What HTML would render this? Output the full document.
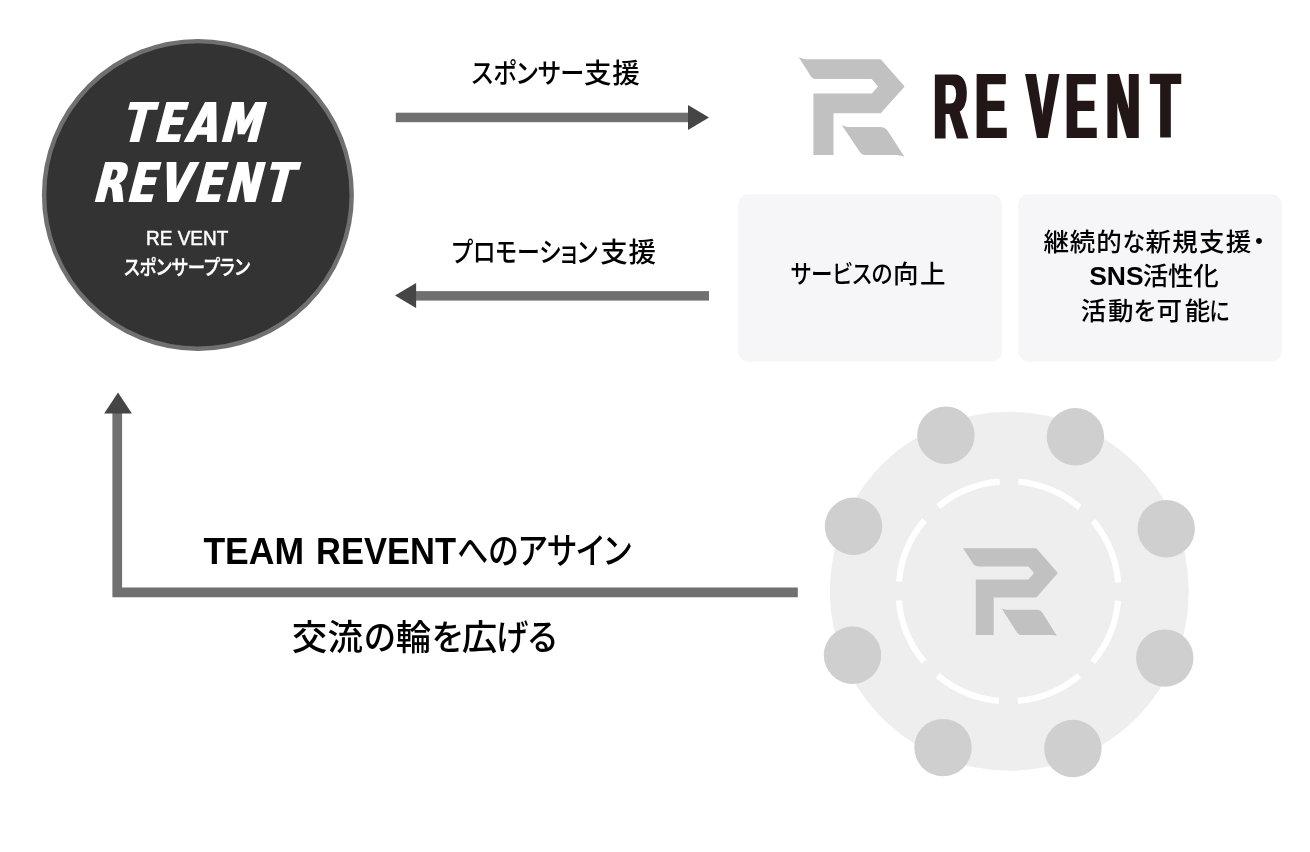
<!DOCTYPE html>
<html lang="ja">
<head>
<meta charset="utf-8">
<title>TEAM REVENT スポンサープラン</title>
<style>
  html, body { margin: 0; padding: 0; background: #ffffff; }
  body { width: 1310px; height: 852px; overflow: hidden; position: relative; }
  svg { will-change: transform; position: absolute; left: 0; top: 0; display: block; }
  text { font-family: "Liberation Sans", "Noto Sans CJK JP", sans-serif; }
  .jp { font-family: "Liberation Sans", "Noto Sans CJK JP", sans-serif; font-weight: 500; fill: #000; font-feature-settings: "palt"; }
  .ttl { font-family: "DejaVu Sans", "Liberation Sans", sans-serif; font-weight: 700; fill: #fff; }
  .logo { font-family: "Liberation Sans", sans-serif; font-weight: 700; fill: #231815; }
</style>
</head>
<body>
<svg width="1310" height="852" viewBox="0 0 1310 852">
  <defs>
    <filter id="thick" filterUnits="userSpaceOnUse" x="0" y="0" width="1310" height="852">
      <feMorphology operator="dilate" radius="1 0"/>
    </filter>
    <filter id="thick2" filterUnits="userSpaceOnUse" x="0" y="0" width="1310" height="852">
      <feMorphology operator="dilate" radius="2 0"/>
    </filter>
  </defs>

  <!-- left circle : TEAM REVENT sponsor plan -->
  <circle cx="197.9" cy="194.9" r="153.8" fill="#333333" stroke="#707070" stroke-width="4.4"/>
  <g filter="url(#thick)">
    <text class="ttl" transform="translate(120.48 142) skewX(-14.7) scale(0.74 1)" x="0 44.45 86.66 133.05" y="0" font-size="54.8">TEAM</text>
    <text class="ttl" transform="translate(92.03 202.1) skewX(-14.7) scale(0.74 1)" x="0 45.53 87.87 136.47 178.58 230.54" y="0" font-size="54.8">REVENT</text>
  </g>
  <text class="jp" y="245" font-size="20.68" style="fill:#fff" stroke="#fff" stroke-width="0.5"><tspan x="146.03" textLength="82.27" lengthAdjust="spacingAndGlyphs">RE VENT</tspan></text>
  <text class="jp" y="275" font-size="20.68" style="fill:#fff" stroke="#fff" stroke-width="0.4"><tspan x="124.07" textLength="126.08" lengthAdjust="spacingAndGlyphs">スポンサープラン</tspan></text>

  <!-- arrows between team and company -->
  <rect x="395.8" y="112.7" width="293" height="9.5" fill="#707070"/>
  <path d="M688 105 L709 117.5 L688 130 Z" fill="#454545"/>
  <rect x="415.5" y="291.1" width="293.5" height="9.5" fill="#707070"/>
  <path d="M416.1 283.1 L395 295.6 L416.1 308.1 Z" fill="#454545"/>
  <text class="jp" y="83" font-size="27.5"><tspan x="471.5" textLength="112.7" lengthAdjust="spacingAndGlyphs">スポンサー</tspan><tspan x="584.09" letter-spacing="0.75">支援</tspan></text>
  <text class="jp" y="262" font-size="27.5"><tspan x="451.93" textLength="145.82" lengthAdjust="spacingAndGlyphs">プロモーション</tspan><tspan x="600.19" letter-spacing="0.85">支援</tspan></text>

  <!-- RE VENT logo -->
  <path d="M798.6 57.1 C801.2 58.5 803.8 59.2 806.6 59.2 L880.7 59.2 L904.7 86.4 L880.7 113.3 L833.5 113.3 L833.5 155 L813.4 155 L813.4 93.4 L871.7 93.4 L878 86.4 L871.7 79.1 L816.4 79.1 C813.8 79.1 811.8 77.9 810.5 75.7 Z M841.7 125 C844.5 126.4 847.3 127 850.3 127 L880.6 127 C884.4 127 887 129.4 889 132.7 L904.5 157.1 C901.5 155.7 898 155.1 894 155.1 L865.5 155.1 C862.3 155.1 860.3 153 858.7 150.3 Z" fill="#c1c1c1"/>
  <g filter="url(#thick2)">
    <text class="logo" transform="translate(933.69 138) scale(0.5 1)" x="0 83.84 85.84 186.23 263.44 345.08 435.03" y="0" font-size="93.2">RE VENT</text>
  </g>

  <!-- boxes -->
  <rect x="738" y="194.2" width="264" height="167.2" rx="10" fill="#f6f6f8"/>
  <rect x="1018.2" y="194.2" width="263.5" height="167.2" rx="10" fill="#f6f6f8"/>
  <text class="jp" y="283" font-size="25.5"><tspan x="790.76" textLength="101.74" lengthAdjust="spacingAndGlyphs">サービスの</tspan><tspan x="893.03" letter-spacing="1.4">向上</tspan></text>
  <text class="jp" y="251" font-size="25.5"><tspan x="1043.41" letter-spacing="0.89">継続的</tspan><tspan x="1122.36" textLength="22.47" lengthAdjust="spacingAndGlyphs">な</tspan><tspan x="1145.54" letter-spacing="1.26">新規支援</tspan><tspan x="1252.73">・</tspan></text>
  <text class="jp" y="285" font-size="25.5"><tspan x="1089.15" textLength="54.46" lengthAdjust="spacingAndGlyphs" font-weight="700">SNS</tspan><tspan x="1142.85" letter-spacing="-0.25">活性化</tspan></text>
  <text class="jp" y="320" font-size="25.5"><tspan x="1080.65" letter-spacing="1.96">活動</tspan><tspan x="1133.7" textLength="21.54" lengthAdjust="spacingAndGlyphs">を</tspan><tspan x="1156.57" letter-spacing="2.62">可能</tspan><tspan x="1209.47" textLength="20.14" lengthAdjust="spacingAndGlyphs">に</tspan></text>

  <!-- L-shaped arrow -->
  <path d="M112.4 413 H122.1 V587.5 H797.8 V597.2 H112.4 Z" fill="#707070"/>
  <path d="M104.2 413.6 L118 392.5 L131.9 413.6 Z" fill="#454545"/>
  <text class="jp" y="564" font-size="37.29"><tspan x="203.39" font-size="37.29" textLength="100.66" lengthAdjust="spacingAndGlyphs" font-weight="700">TEAM</tspan> <tspan x="316.08" font-size="37.29" textLength="139.96" lengthAdjust="spacingAndGlyphs" font-weight="700">REVENT</tspan><tspan x="457.04" font-size="35.85" textLength="174.26" lengthAdjust="spacingAndGlyphs">へのアサイン</tspan></text>
  <text class="jp" y="650" font-size="35.5"><tspan x="291.65" letter-spacing="0.25">交流</tspan><tspan x="364.23" textLength="31.23" lengthAdjust="spacingAndGlyphs">の</tspan><tspan x="395.86">輪</tspan><tspan x="431.9" textLength="30.47" lengthAdjust="spacingAndGlyphs">を</tspan><tspan x="461.8">広</tspan><tspan x="495.91" textLength="61.07" lengthAdjust="spacingAndGlyphs">げる</tspan></text>

  <!-- community circle -->
  <circle cx="1009.3" cy="591.3" r="179.5" fill="#eeeeee"/>
  <circle cx="1008.5" cy="591.3" r="110" fill="none" stroke="#ffffff" stroke-width="6.2" stroke-dasharray="67.2 19.194" stroke-dashoffset="-9.6"/>
  <g fill="#cfcfcf">
    <circle cx="945.9" cy="435.3" r="28.7"/>
    <circle cx="1075.4" cy="436.8" r="28.7"/>
    <circle cx="1166.2" cy="528.7" r="28.7"/>
    <circle cx="1164.8" cy="658.1" r="28.7"/>
    <circle cx="1072.9" cy="748.5" r="28.7"/>
    <circle cx="943" cy="747.6" r="28.7"/>
    <circle cx="852.5" cy="655.2" r="28.7"/>
    <circle cx="853.5" cy="526.2" r="28.7"/>
  </g>
  <path d="M962.8 547.9 C963.6 548.2 964.6 548.3 965.6 548.3 L1036.3 548.3 L1057.9 573.1 L1036.3 597.6 L993.7 597.6 L993.7 635.1 L975.8 635.1 L975.8 579.6 L1028.4 579.6 L1034 573.1 L1028.4 566.6 L979 566.6 C976 566.6 974.2 565.5 972.8 563.3 Z M1001.7 608.4 C1003.6 609.3 1005.7 609.7 1008 609.7 L1036 609.7 C1039.8 609.7 1041.6 611.3 1043.2 613.9 L1056.9 635.7 C1055.3 635.3 1053.6 635.1 1052 635.1 L1022.5 635.1 C1019.2 635.1 1017.6 633.6 1016.2 631.2 Z" fill="#c1c1c1"/>
</svg>
</body>
</html>
